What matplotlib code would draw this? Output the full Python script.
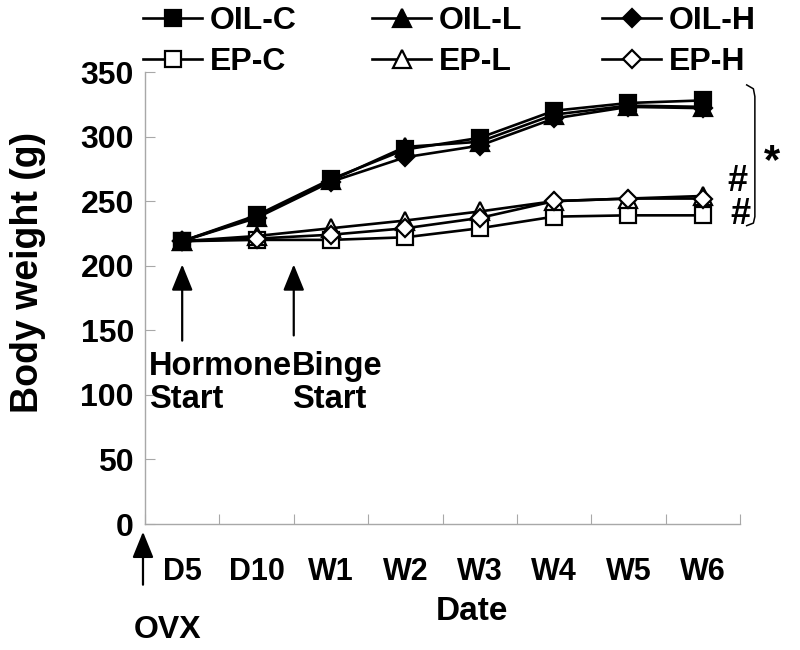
import matplotlib
matplotlib.use("Agg")
import matplotlib.pyplot as plt
from matplotlib.lines import Line2D

plt.rcParams['font.family'] = ['Liberation Sans', 'DejaVu Sans']
plt.rcParams['font.weight'] = 'bold'

categories = ["D5", "D10", "W1", "W2", "W3", "W4", "W5", "W6"]
oil_c = [219, 239, 267, 290, 299, 320, 326, 328]
oil_l = [219, 238, 266, 292, 296, 317, 324, 323]
oil_h = [219, 237, 265, 284, 293, 314, 323, 322]
ep_c = [219, 220, 220, 222, 229, 238, 239, 239]
ep_l = [219, 223, 229, 235, 242, 250, 252, 254]
ep_h = [219, 221, 224, 229, 237, 250, 252, 252]
yticks = [0, 50, 100, 150, 200, 250, 300, 350]

W, H = 800, 650
fig = plt.figure(figsize=(8, 6.5), dpi=100)
ax = fig.add_axes([145/W, 1-524/H, (740-145)/W, (524-72)/H])

x = list(range(len(categories)))
lw = 1.9
series = [
    ("OIL-C", oil_c, 's', 'black', 12),
    ("OIL-L", oil_l, '^', 'black', 13),
    ("OIL-H", oil_h, 'D', 'black', 9),
    ("EP-C", ep_c, 's', 'white', 12),
    ("EP-L", ep_l, '^', 'white', 13),
    ("EP-H", ep_h, 'D', 'white', 9),
]
handles = {}
for name, vals, m, fc, ms in series[3:] + series[:3]:
    h, = ax.plot(x, vals, color='black', lw=lw, marker=m, markersize=ms,
                 markerfacecolor=fc, markeredgecolor='black', markeredgewidth=1.6,
                 label=name, clip_on=False, zorder=3)
    handles[name] = h

ax.set_xlim(-0.5, len(categories) - 0.5)
ax.set_ylim(0, 350)
ax.set_yticks(yticks)
ax.set_yticklabels([str(v) for v in yticks], fontsize=23, fontweight='bold')
ax.set_xticks([i + 0.5 for i in range(-1, len(categories))])
ax.set_xticklabels([])
ax.set_xticks(x, minor=True)
ax.set_xticklabels(categories, minor=True, fontsize=22, fontweight='bold')
ax.tick_params(axis='x', which='minor', length=0, pad=24)
ax.tick_params(axis='x', which='major', direction='in', length=7, color='#a8a8a8')
ax.tick_params(axis='y', direction='in', length=7, color='#a8a8a8', pad=8)
for s in ['top', 'right']:
    ax.spines[s].set_visible(False)
for s in ['left', 'bottom']:
    ax.spines[s].set_color('#a8a8a8')
    ax.spines[s].set_linewidth(1.0)

ax.set_xlabel("Date", fontsize=24, fontweight='bold')
ax.xaxis.set_label_coords((472-145)/595, (524-596)/452)
ax.set_ylabel("Body weight (g)", fontsize=27, fontweight='bold')
ax.yaxis.set_label_coords((28-145)/595, (524-272)/452)
ax.yaxis.label.set_va('center')

# Legend: six single entries at fixed grid positions (3 columns x 2 rows)
grid = [("OIL-C", 143, 21), ("OIL-L", 372, 21), ("OIL-H", 602, 21),
        ("EP-C", 143, 62), ("EP-L", 372, 62), ("EP-H", 602, 62)]
for name, px, py in grid:
    fig.legend([handles[name]], [name], loc='center left',
               bbox_to_anchor=(px/W, 1-py/H), frameon=False,
               prop={'size': 23, 'weight': 'bold'},
               handlelength=1.85, handletextpad=0.25,
               borderpad=0.0, borderaxespad=0.0)

# Arrows and annotations
ap = dict(arrowstyle='-|>,head_length=1.6,head_width=0.65', color='black', lw=1.6,
          shrinkA=0, shrinkB=0)
ax.annotate("", xy=(0, 201), xytext=(0, 142), arrowprops=ap, annotation_clip=False)
ax.annotate("", xy=(1.5, 201), xytext=(1.5, 146), arrowprops=ap, annotation_clip=False)
txt = dict(fontsize=23.5, fontweight='bold', ha='left', va='baseline')
ax.text(-0.445, 115.4, "Hormone", **txt)
ax.text(-0.445, 89.8, "Start", **txt)
ax.text(1.476, 115.4, "Binge", **txt)
ax.text(1.476, 89.8, "Start", **txt)
ax.annotate("", xy=(-0.527, -6), xytext=(-0.527, -47), arrowprops=ap, annotation_clip=False)
ax.text(-0.19, -88.3, "OVX", fontsize=23, fontweight='bold', ha='center', va='baseline', clip_on=False)

# Bracket
bl = Line2D([7.59, 7.68, 7.70, 7.70, 7.68, 7.59],
            [340, 337, 331, 238, 233, 231], color='black', lw=1.1, clip_on=False)
ax.add_line(bl)
ax.text(7.93, 280, "*", fontsize=30, fontweight='bold', ha='center', va='center')
ax.text(7.47, 265, "#", fontsize=26, fontweight='bold', ha='center', va='center')
ax.text(7.5, 239.5, "#", fontsize=26, fontweight='bold', ha='center', va='center')

fig.savefig("out.png", dpi=100)
